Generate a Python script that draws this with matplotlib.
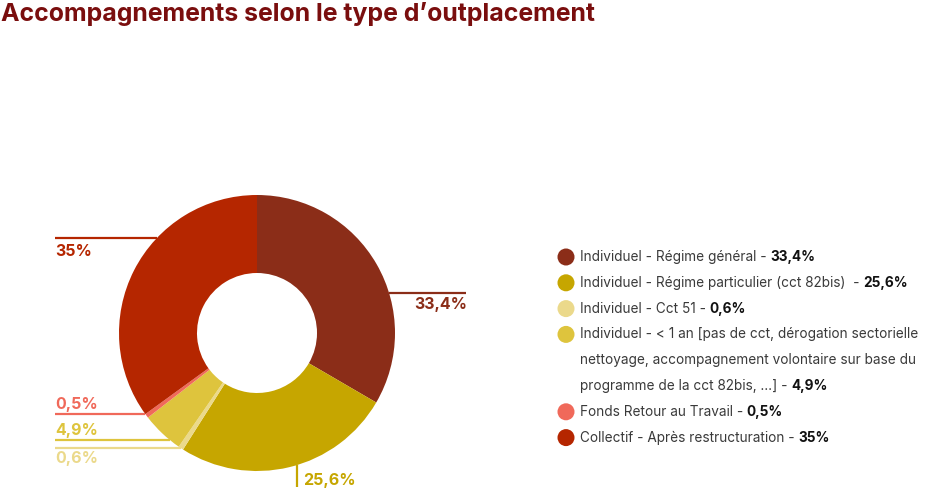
import numpy as np
import matplotlib.pyplot as plt

# données
labels = [
    "Individuel - Régime général -",
    "Individuel - Régime particulier (cct 82bis)  -",
    "Individuel - Cct 51 -",
    "Individuel - < 1 an [pas de cct, dérogation sectorielle\nnettoyage, accompagnement volontaire sur base du\nprogramme de la cct 82bis, ...] -",
    "Fonds Retour au Travail -",
    "Collectif - Après restructuration -",
]
values = [33.4, 25.6, 0.6, 4.9, 0.5, 35.0]
value_labels = ["33,4%", "25,6%", "0,6%", "4,9%", "0,5%", "35%"]
colors = ["#8B2D18", "#C6A600", "#EBD98B", "#DEC43D", "#F0695A", "#B52600"]

plt.rcParams['font.family'] = ['Inter', 'DejaVu Sans']

W, H = 933, 500
fig = plt.figure(figsize=(W / 100, H / 100), dpi=100)
ax = fig.add_axes([0, 0, 1, 1])
ax.set_xlim(0, W)
ax.set_ylim(0, H)
ax.axis('off')

cx, cy, R = 257, H - 333, 138
ax.pie(values, colors=colors, startangle=90, counterclock=False,
       center=(cx, cy), radius=R, wedgeprops=dict(width=R - 60, linewidth=0))
ax.set_xlim(0, W)
ax.set_ylim(0, H)
ax.set_aspect('equal')

fig.text(1 / W, 1 - 14 / H, "Accompagnements selon le type d\u2019outplacement",
         color="#7A0E0E", fontsize=17.9, fontweight='bold', va='center', ha='left')

# étiquettes avec lignes de rappel
def hline(y_img, side, x_end, color):
    y = H - y_img
    dx = np.sqrt(R ** 2 - (y - cy) ** 2)
    xw = cx - dx if side == 'left' else cx + dx
    ax.plot([x_end, xw], [y, y], color=color, lw=1.6, solid_capstyle='butt')

lab_style = dict(fontsize=11.5, fontweight='bold', va='center')
# 35%
hline(238, 'left', 55, colors[5])
ax.text(55, H - 251, value_labels[5], color=colors[5], ha='left', **lab_style)
# 33,4%
hline(293, 'right', 466, colors[0])
ax.text(467, H - 305, value_labels[0], color=colors[0], ha='right', **lab_style)
# 0,5%
hline(414, 'left', 55, colors[4])
ax.text(55, H - 405, value_labels[4], color=colors[4], ha='left', **lab_style)
# 4,9%
hline(440, 'left', 55, colors[3])
ax.text(55, H - 430, value_labels[3], color=colors[3], ha='left', **lab_style)
# 0,6%
hline(448, 'left', 55, colors[2])
ax.text(55, H - 458, value_labels[2], color=colors[2], ha='left', **lab_style)
# 25,6%
xv = 297
yw = cy - np.sqrt(R ** 2 - (xv - cx) ** 2)
ax.plot([xv, xv], [yw, H - 487], color=colors[1], lw=1.6, solid_capstyle='butt')
ax.text(303, H - 480, value_labels[1], color=colors[1], ha='left', **lab_style)

# légende
fig.canvas.draw()
renderer = fig.canvas.get_renderer()
row_h = 25.8
y_img = 257
for lab, vl, col in zip(labels, value_labels, colors):
    lines = lab.split("\n")
    ax.scatter([566], [H - y_img], s=150, color=col, edgecolors='none')
    for i, ln in enumerate(lines):
        t = ax.text(580, H - y_img, ln, fontsize=9.8, color="#3A3A3A",
                    ha='left', va='center')
        if i == len(lines) - 1:
            bb = t.get_window_extent(renderer=renderer)
            ax.text(bb.x1 + 3.5, H - y_img, vl, fontsize=9.8, color="#111111",
                    fontweight='bold', ha='left', va='center')
        else:
            y_img += row_h
    y_img += row_h

fig.savefig("out.png", dpi=100)
